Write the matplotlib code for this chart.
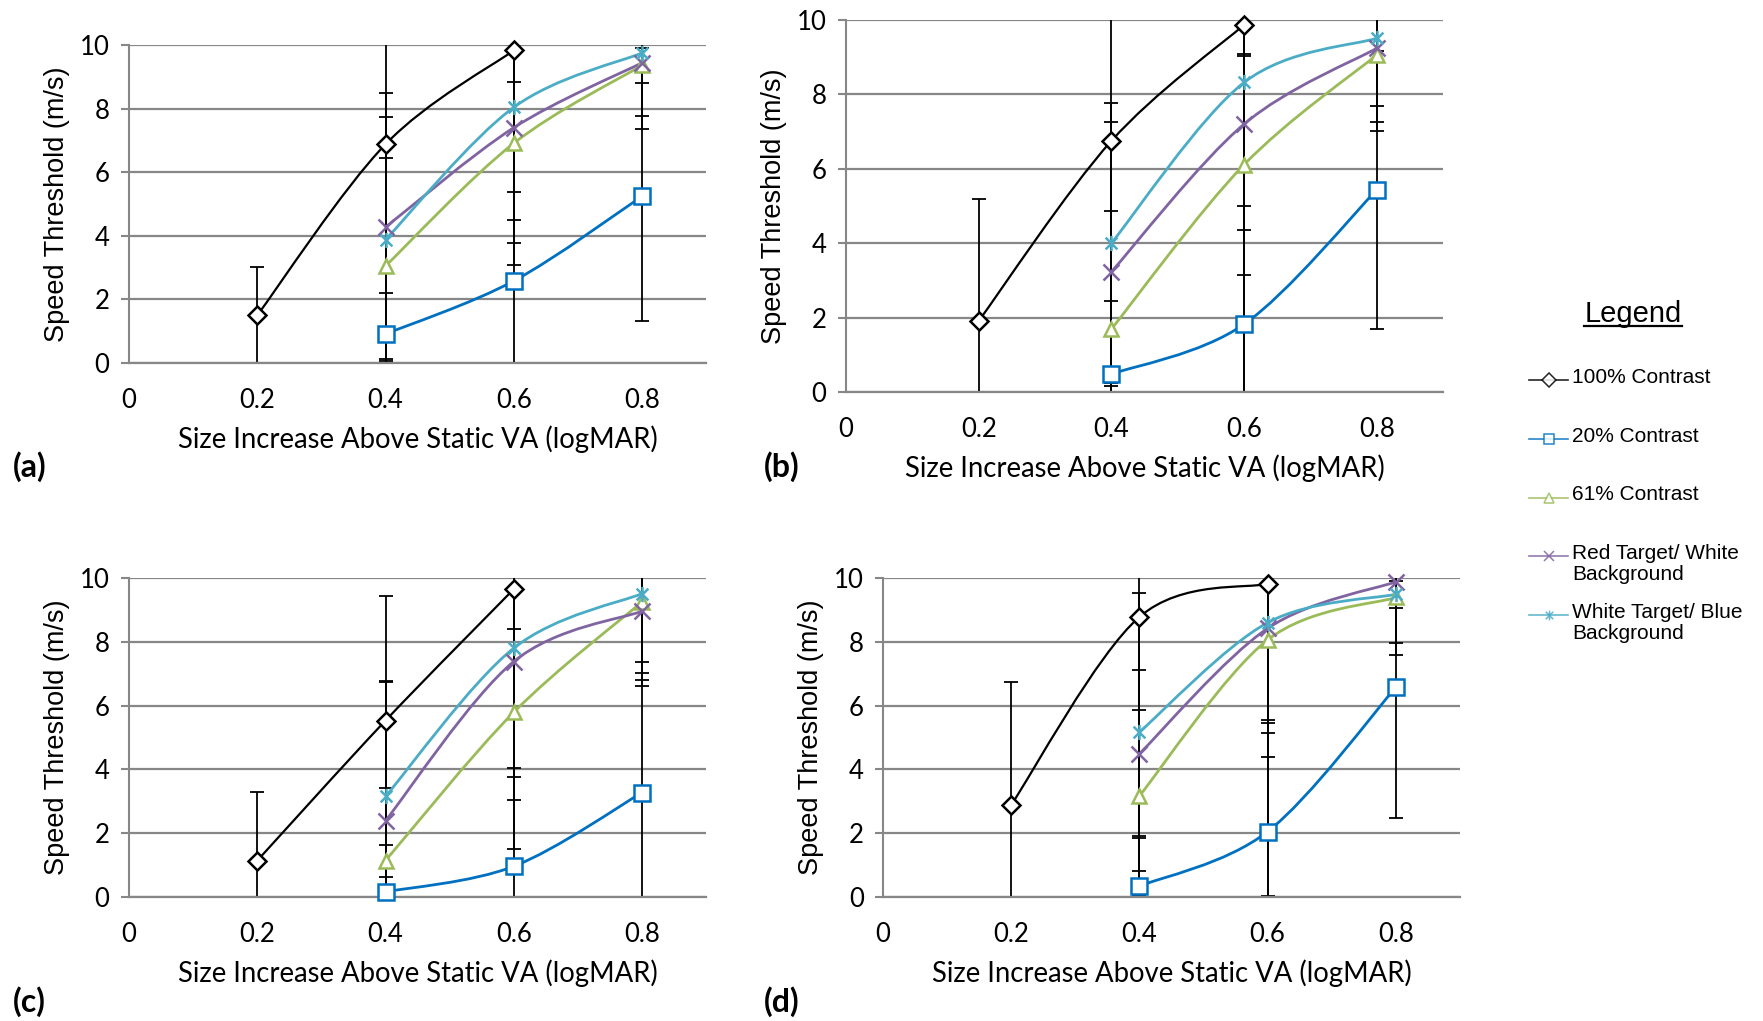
import numpy as np
import matplotlib
matplotlib.use('Agg')
import matplotlib.pyplot as plt
from matplotlib.path import Path
from matplotlib.patches import PathPatch
from matplotlib.lines import Line2D

# ---- data ----
x_100 = [0.2, 0.4, 0.6]
x_rest = [0.4, 0.6, 0.8]
x_ticks = [0, 0.2, 0.4, 0.6, 0.8]
x_tick_labels = ['0', '0.2', '0.4', '0.6', '0.8']
y_ticks = [0, 2, 4, 6, 8, 10]

series_names = ['100% Contrast', '20% Contrast', '61% Contrast',
                'Red Target/ White\nBackground', 'White Target/ Blue\nBackground']

# (a)
a_100 = [1.50, 6.88, 9.83]
a_100_err = [1.52, 6.77, 0.99]
a_20 = [0.91, 2.58, 5.24]
a_20_err = [1.30, 2.80, 3.93]
a_61 = [3.05, 6.91, 9.36]
a_61_err = [3.39, 3.83, 0.55]
a_red = [4.27, 7.40, 9.44]
a_red_err = [4.22, 3.62, 1.66]
a_white = [3.88, 8.04, 9.75]
a_white_err = [3.87, 3.53, 2.40]

# (b)
b_100 = [1.91, 6.75, 9.87]
b_100_err = [3.29, 6.60, 0.85]
b_20 = [0.48, 1.82, 5.43]
b_20_err = [1.97, 3.18, 3.73]
b_61 = [1.69, 6.11, 9.06]
b_61_err = [3.17, 2.97, 2.04]
b_red = [3.23, 7.20, 9.24]
b_red_err = [4.04, 2.85, 1.99]
b_white = [4.00, 8.32, 9.51]
b_white_err = [3.77, 9.00, 1.81]

# (c)
c_100 = [1.14, 5.53, 9.65]
c_100_err = [2.16, 3.91, 1.26]
c_20 = [0.16, 0.96, 3.27]
c_20_err = [0.48, 3.07, 4.09]
c_61 = [1.14, 5.79, 9.25]
c_61_err = [2.29, 4.30, 2.23]
c_red = [2.39, 7.38, 8.96]
c_red_err = [4.39, 4.34, 2.15]
c_white = [3.15, 7.80, 9.51]
c_white_err = [3.60, 4.03, 2.90]

# (d)
d_100 = [2.89, 8.78, 9.82]
d_100_err = [3.85, 8.73, 9.80]
d_20 = [0.34, 2.05, 6.57]
d_20_err = [1.58, 3.50, 4.11]
d_61 = [3.17, 8.06, 9.39]
d_61_err = [2.68, 2.60, 1.42]
d_red = [4.49, 8.42, 9.88]
d_red_err = [2.63, 3.27, 2.31]
d_white = [5.17, 8.60, 9.49]
d_white_err = [4.37, 4.20, 0.43]

panels = {
    '(a)': [(a_100, a_100_err), (a_20, a_20_err), (a_61, a_61_err), (a_red, a_red_err), (a_white, a_white_err)],
    '(b)': [(b_100, b_100_err), (b_20, b_20_err), (b_61, b_61_err), (b_red, b_red_err), (b_white, b_white_err)],
    '(c)': [(c_100, c_100_err), (c_20, c_20_err), (c_61, c_61_err), (c_red, c_red_err), (c_white, c_white_err)],
    '(d)': [(d_100, d_100_err), (d_20, d_20_err), (d_61, d_61_err), (d_red, d_red_err), (d_white, d_white_err)],
}

# ---- styles ----
star = Path([(-1, -1), (1, 1), (-1, 1), (1, -1), (0, -1.3), (0, 1.3)],
            [Path.MOVETO, Path.LINETO, Path.MOVETO, Path.LINETO, Path.MOVETO, Path.LINETO])
colors = ['#000000', '#0070C0', '#9BBB59', '#8064A2', '#4BACC6']
markers = ['D', 's', '^', 'x', star]
msizes = [9, 11, 10.5, 11, 11]
lwidths = [1.6, 2.0, 2.0, 2.0, 2.0]
grid_col = '#878787'
narrow = 'Lato'
arial = 'Liberation Sans'

# axes boxes [left, bottom, width, height] in figure fraction
boxes = {
    '(a)': [0.0732, 0.6445, 0.3273, 0.3114],
    '(b)': [0.4799, 0.6161, 0.3386, 0.3643],
    '(c)': [0.0732, 0.1215, 0.3273, 0.3124],
    '(d)': [0.5009, 0.1215, 0.3272, 0.3124],
}
label_pos = {'(a)': (0.0072, 0.5425), '(b)': (0.4330, 0.5425),
             '(c)': (0.0072, 0.0185), '(d)': (0.4335, 0.0185)}


def smooth(xs, ys):
    # Excel-like smoothed line: cubic Bezier through the points
    pts = np.column_stack([xs, ys])
    n = len(pts)
    verts = [pts[0]]
    codes = [Path.MOVETO]
    for i in range(n - 1):
        p0 = pts[i - 1] if i > 0 else pts[i]
        p1 = pts[i]
        p2 = pts[i + 1]
        p3 = pts[i + 2] if i + 2 < n else pts[i + 1]
        verts += [p1 + (p2 - p0) / 6, p2 - (p3 - p1) / 6, p2]
        codes += [Path.CURVE4] * 3
    return Path(verts, codes)


fig = plt.figure(figsize=(17.63, 10.21), dpi=100)

for name, data in panels.items():
    ax = fig.add_axes(boxes[name])
    ax.set_xlim(0, 0.9)
    ax.set_ylim(0, 10)
    for k, (ys, errs) in enumerate(data):
        xs = x_100 if k == 0 else x_rest
        ax.errorbar(xs, ys, yerr=errs, fmt='none', ecolor='black',
                    elinewidth=1.3, capsize=5, capthick=1.3, zorder=2)
    for k, (ys, errs) in enumerate(data):
        xs = x_100 if k == 0 else x_rest
        ax.add_patch(PathPatch(smooth(xs, ys), fill=False, edgecolor=colors[k],
                               lw=lwidths[k], zorder=3))
        filled = markers[k] in ('D', 's', '^')
        ax.plot(xs, ys, ls='none', marker=markers[k], ms=msizes[k],
                mfc='white' if filled else 'none', mec=colors[k],
                mew=1.8, zorder=4, clip_on=False)

    ax.set_xticks(x_ticks)
    ax.set_xticklabels(x_tick_labels, fontsize=18.5, family=narrow)
    ax.set_yticks(y_ticks)
    ax.set_yticklabels([str(v) for v in y_ticks], fontsize=18.5, family=narrow)
    ax.tick_params(axis='x', length=0, pad=18)
    ax.tick_params(axis='y', length=6, width=1.5, color=grid_col, pad=8)
    ax.set_xticks([0], minor=True)
    ax.tick_params(axis='x', which='minor', length=6, width=1.5, color=grid_col)
    ax.yaxis.grid(True, color=grid_col, lw=1.6)
    ax.set_axisbelow(True)
    for s in ['top', 'right']:
        ax.spines[s].set_visible(False)
    ax.spines['left'].set_color(grid_col)
    ax.spines['left'].set_linewidth(1.5)
    ax.spines['bottom'].set_color(grid_col)
    ax.spines['bottom'].set_linewidth(1.6)
    ax.set_xlabel('Size Increase Above Static VA (logMAR)', fontsize=19.8,
                  family=narrow, labelpad=9)
    ax.set_ylabel('Speed Threshold (m/s)', fontsize=19.5, family=arial, labelpad=7)
    fig.text(label_pos[name][0], label_pos[name][1], name, fontsize=23,
             fontweight='bold', family=narrow, ha='left', va='center')

# ---- legend on the right ----
title = fig.text(0.9263, 0.6920, 'Legend', fontsize=21, family=arial,
                 ha='center', va='center')
fig.canvas.draw()
bb = title.get_window_extent(fig.canvas.get_renderer()).transformed(fig.transFigure.inverted())
fig.add_artist(Line2D([bb.x0, bb.x1], [bb.y0 + 0.002, bb.y0 + 0.002],
                      transform=fig.transFigure, color='black', lw=1.6))

hx0, hx1, tx = 0.8673, 0.8894, 0.8917
y0, step = 0.6277, 0.0575
for k, label in enumerate(series_names):
    y = y0 - k * step
    fig.add_artist(Line2D([hx0, (hx0 + hx1) / 2, hx1], [y, y, y], transform=fig.transFigure,
                          color=colors[k], lw=1.2, alpha=0.85, marker=markers[k], markevery=[1],
                          ms=7, mfc='white' if k < 3 else 'none', mec=colors[k], mew=1.1))
    fig.text(tx, y + 0.0118, label, fontsize=15, family=arial,
             ha='left', va='top', linespacing=1.12)

fig.savefig('out.png', dpi=100, facecolor='white')
